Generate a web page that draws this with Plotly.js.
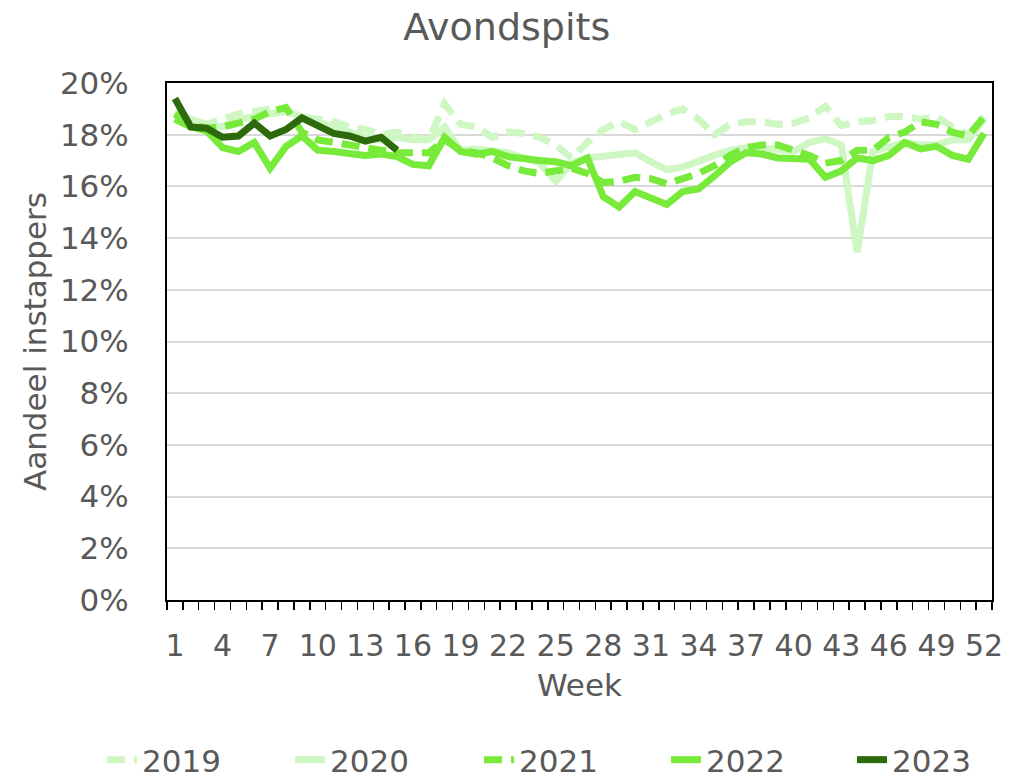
<!DOCTYPE html>
<html>
<head>
<meta charset="utf-8">
<script src="https://cdn.plot.ly/plotly-3.0.1.min.js"></script>
<style>
html, body { margin: 0; padding: 0; background: #ffffff; }
#chart { width: 1030px; height: 779px; }
</style>
</head>
<body>
<div id="chart"></div>
<script>
// Weeks 1..52
const weeks = Array.from({length: 52}, (_, i) => i + 1);
const weekTicks = [1, 4, 7, 10, 13, 16, 19, 22, 25, 28, 31, 34, 37, 40, 43, 46, 49, 52];

// Aandeel instappers (%) per week
const y2019 = [18.8, 18.5, 18.4, 18.6, 18.8, 18.9, 19.0, 18.9, 18.7, 18.6,
               18.5, 18.3, 18.2, 18.0, 18.1, 17.9, 17.8, 19.2, 18.4, 18.3,
               17.9, 18.1, 18.05, 17.9, 17.6, 17.1, 17.7, 18.2, 18.5, 18.2,
               18.5, 18.8, 19.0, 18.6, 18.0, 18.4, 18.5, 18.5, 18.4, 18.45,
               18.65, 19.1, 18.35, 18.5, 18.55, 18.7, 18.7, 18.6, 18.7, 18.3,
               18.0, 18.7];
const y2020 = [18.9, 18.6, 18.4, 18.3, 18.6, 18.7, 18.8, 18.9, 18.7, 18.5,
               18.3, 18.1, 17.9, 17.8, 17.9, 17.8, 17.8, 18.3, 17.4, 17.45,
               17.4, 17.3, 17.1, 16.9, 16.2, 16.9, 17.1, 17.15, 17.2, 17.3,
               16.95, 16.65, 16.75, 17.0, 17.2, 17.4, 17.5, 17.5, 17.4, 17.35,
               17.7, 17.85, 17.6, 13.45, 17.35, 17.55, 17.7, 17.6, 17.6, 17.8,
               17.8, 18.6];
const y2021 = [18.8, 18.4, 18.25, 18.3, 18.45, 18.6, 18.9, 19.05, 18.1, 17.8,
               17.7, 17.6, 17.5, 17.4, 17.3, 17.3, 17.3, 17.8, 17.4, 17.3,
               17.1, 16.8, 16.6, 16.5, 16.6, 16.7, 16.5, 16.15, 16.2, 16.35,
               16.3, 16.1, 16.3, 16.5, 16.8, 17.2, 17.5, 17.6, 17.6, 17.4,
               17.2, 16.9, 17.0, 17.4, 17.4, 17.9, 18.1, 18.5, 18.4, 18.1,
               17.95, 18.7];
const y2022 = [18.6, 18.3, 18.15, 17.5, 17.35, 17.7, 16.7, 17.55, 17.95, 17.4,
               17.35, 17.3, 17.2, 17.25, 17.15, 16.85, 16.8, 17.9, 17.35, 17.25,
               17.35, 17.15, 17.05, 17.0, 16.95, 16.8, 17.1, 15.6, 15.2, 15.8,
               15.55, 15.3, 15.8, 15.9, 16.4, 16.95, 17.3, 17.25, 17.1, 17.1,
               17.05, 16.35, 16.6, 17.1, 17.0, 17.2, 17.7, 17.45, 17.55, 17.2,
               17.05, 18.05];
const y2023 = [19.4, 18.3, 18.25, 17.9, 17.95, 18.45, 17.95, 18.2, 18.65, 18.35,
               18.05, 17.95, 17.75, 17.9, 17.4];

const yTicks = [0, 2, 4, 6, 8, 10, 12, 14, 16, 18, 20];
const yTickText = ['0%', '2%', '4%', '6%', '8%', '10%', '12%', '14%', '16%', '18%', '20%'];

const FONT = 'DejaVu Sans, Verdana, sans-serif';
const GREY = '#595959';
const LIGHT = '#CFF7C4';
const BRIGHT = '#78EA3A';
const DARK = '#2C6A0B';
const DASH = '18px,9px';
const W = 7;

const traces = [
  {x: weeks, y: y2019, name: '2019', mode: 'lines', legend: 'legend',  line: {color: LIGHT, width: W, dash: DASH}},
  {x: weeks, y: y2020, name: '2020', mode: 'lines', legend: 'legend2', line: {color: LIGHT, width: W}},
  {x: weeks, y: y2021, name: '2021', mode: 'lines', legend: 'legend3', line: {color: BRIGHT, width: W, dash: DASH}},
  {x: weeks, y: y2022, name: '2022', mode: 'lines', legend: 'legend4', line: {color: BRIGHT, width: W}},
  {x: weeks.slice(0, y2023.length), y: y2023, name: '2023', mode: 'lines', legend: 'legend5', line: {color: DARK, width: W}}
];

function legendAt(xpx) {
  return {
    orientation: 'h', xref: 'container', yref: 'container',
    x: xpx / 1030, xanchor: 'left', y: 1 - 760 / 779, yanchor: 'middle',
    font: {family: FONT, size: 31, color: GREY},
    itemwidth: 30, bgcolor: 'rgba(0,0,0,0)'
  };
}

const layout = {
  width: 1030, height: 779,
  paper_bgcolor: '#ffffff', plot_bgcolor: '#ffffff',
  margin: {l: 167, r: 38, t: 83, b: 179},
  font: {family: FONT, color: GREY, size: 31},
  title: {text: 'Avondspits', x: 0.492, xref: 'container', xanchor: 'center',
          y: 1 - 27 / 779, yref: 'container', yanchor: 'middle',
          font: {family: FONT, size: 38, color: GREY}},
  xaxis: {
    range: [0.5, 52.5], tickvals: weekTicks, ticktext: weekTicks.map(String),
    ticks: '', showgrid: false, zeroline: false,
    showline: true, linecolor: '#000000', linewidth: 2, mirror: true,
    ticklabelstandoff: 18,
    tickfont: {family: FONT, size: 30, color: GREY},
    minor: {ticks: 'outside', dtick: 1, tick0: 0.5, ticklen: 8, tickwidth: 1.5, tickcolor: '#000000', showgrid: false},
    title: {text: 'Week', font: {family: FONT, size: 31, color: GREY}, standoff: 12},
    fixedrange: true
  },
  yaxis: {
    range: [0, 20], tickvals: yTicks, ticktext: yTickText,
    ticks: '', showgrid: true, gridcolor: '#D9D9D9', gridwidth: 2, zeroline: false,
    showline: true, linecolor: '#000000', linewidth: 2, mirror: true,
    ticklabelstandoff: 30,
    tickfont: {family: FONT, size: 31, color: GREY},
    title: {text: 'Aandeel instappers', font: {family: FONT, size: 31, color: GREY}, standoff: 4},
    fixedrange: true
  },
  showlegend: true,
  legend: legendAt(102),
  legend2: legendAt(290),
  legend3: legendAt(479),
  legend4: legendAt(666),
  legend5: legendAt(852)
};

Plotly.newPlot('chart', traces, layout, {staticPlot: true, displayModeBar: false});
</script>
</body>
</html>
